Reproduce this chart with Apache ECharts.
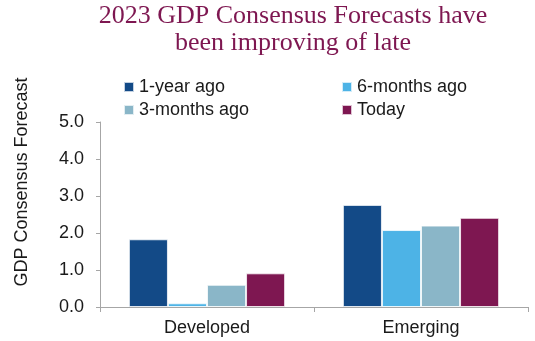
<!DOCTYPE html>
<html>
<head>
<meta charset="utf-8">
<script src="https://cdn.jsdelivr.net/npm/echarts@6/dist/echarts.min.js"></script>
<style>
  html, body { margin: 0; padding: 0; background: #fff; }
  #chart { width: 535px; height: 341px; }
</style>
</head>
<body>
<div id="chart"></div>
<script>
// Regions on the category axis
const regions = ['Developed', 'Emerging'];

// Consensus GDP forecasts for 2023 (%), by vintage
const oneYearAgo = [1.83, 2.76];
const sixMonthsAgo = [0.10, 2.08];
const threeMonthsAgo = [0.60, 2.20];
const today = [0.91, 2.41];

const seriesNames = ['1-year ago', '6-months ago', '3-months ago', 'Today'];
const seriesValues = [oneYearAgo, sixMonthsAgo, threeMonthsAgo, today];
const seriesColors = ['#134a87', '#4db3e6', '#8ab6c8', '#7e1751'];

const yTicks = { min: 0, max: 5, step: 1 };

const font = 'Liberation Sans, Arial, sans-serif';
const axisGray = '#a6a6a6';

const chart = echarts.init(document.getElementById('chart'), null, { renderer: 'canvas' });

const legendText = { fontFamily: font, fontSize: 18, color: '#1a1a1a', lineHeight: 18 };

chart.setOption({
  animation: false,
  backgroundColor: '#fff',
  graphic: [
    {
      type: 'text',
      x: 293,
      y: 3,
      style: {
        text: '2023 GDP Consensus Forecasts have\nbeen improving of late',
        font: '26px "Liberation Serif", "Times New Roman", serif',
        fill: '#7e1751',
        align: 'center',
        verticalAlign: 'top',
        lineHeight: 27
      }
    },
    {
      type: 'text',
      x: 22,
      y: 182,
      rotation: Math.PI / 2,
      style: {
        text: 'GDP Consensus Forecast',
        font: '18px ' + font,
        fill: '#1a1a1a',
        align: 'center',
        verticalAlign: 'middle'
      }
    }
  ],
  legend: [
    {
      orient: 'vertical',
      left: 118,
      top: 73,
      itemWidth: 10,
      itemHeight: 10,
      itemGap: 5,
      icon: 'rect',
      data: [seriesNames[0], seriesNames[2]],
      textStyle: legendText
    },
    {
      orient: 'vertical',
      left: 336,
      top: 73,
      itemWidth: 10,
      itemHeight: 10,
      itemGap: 5,
      icon: 'rect',
      data: [seriesNames[1], seriesNames[3]],
      textStyle: legendText
    }
  ],
  grid: { left: 100, right: 7, top: 122, bottom: 34, containLabel: false },
  xAxis: {
    type: 'category',
    data: regions,
    axisLine: { lineStyle: { color: axisGray, width: 1 } },
    axisTick: { show: true, length: 5, interval: 0, lineStyle: { color: axisGray } },
    axisLabel: { fontFamily: font, fontSize: 18, color: '#1a1a1a', margin: 12 }
  },
  yAxis: {
    type: 'value',
    min: yTicks.min,
    max: yTicks.max,
    interval: yTicks.step,
    splitLine: { show: false },
    axisLine: { show: true, lineStyle: { color: axisGray, width: 1 } },
    axisTick: { show: true, length: 4, lineStyle: { color: axisGray } },
    axisLabel: {
      fontFamily: font, fontSize: 18, color: '#1a1a1a', margin: 16,
      formatter: v => v.toFixed(1)
    }
  },
  series: seriesNames.map((name, i) => ({
    name: name,
    type: 'bar',
    data: seriesValues[i],
    barGap: '0%',
    barCategoryGap: '27%',
    itemStyle: {
      color: seriesColors[i],
      borderColor: 'rgba(255,255,255,0.75)',
      borderWidth: 1
    }
  }))
});
</script>
</body>
</html>
